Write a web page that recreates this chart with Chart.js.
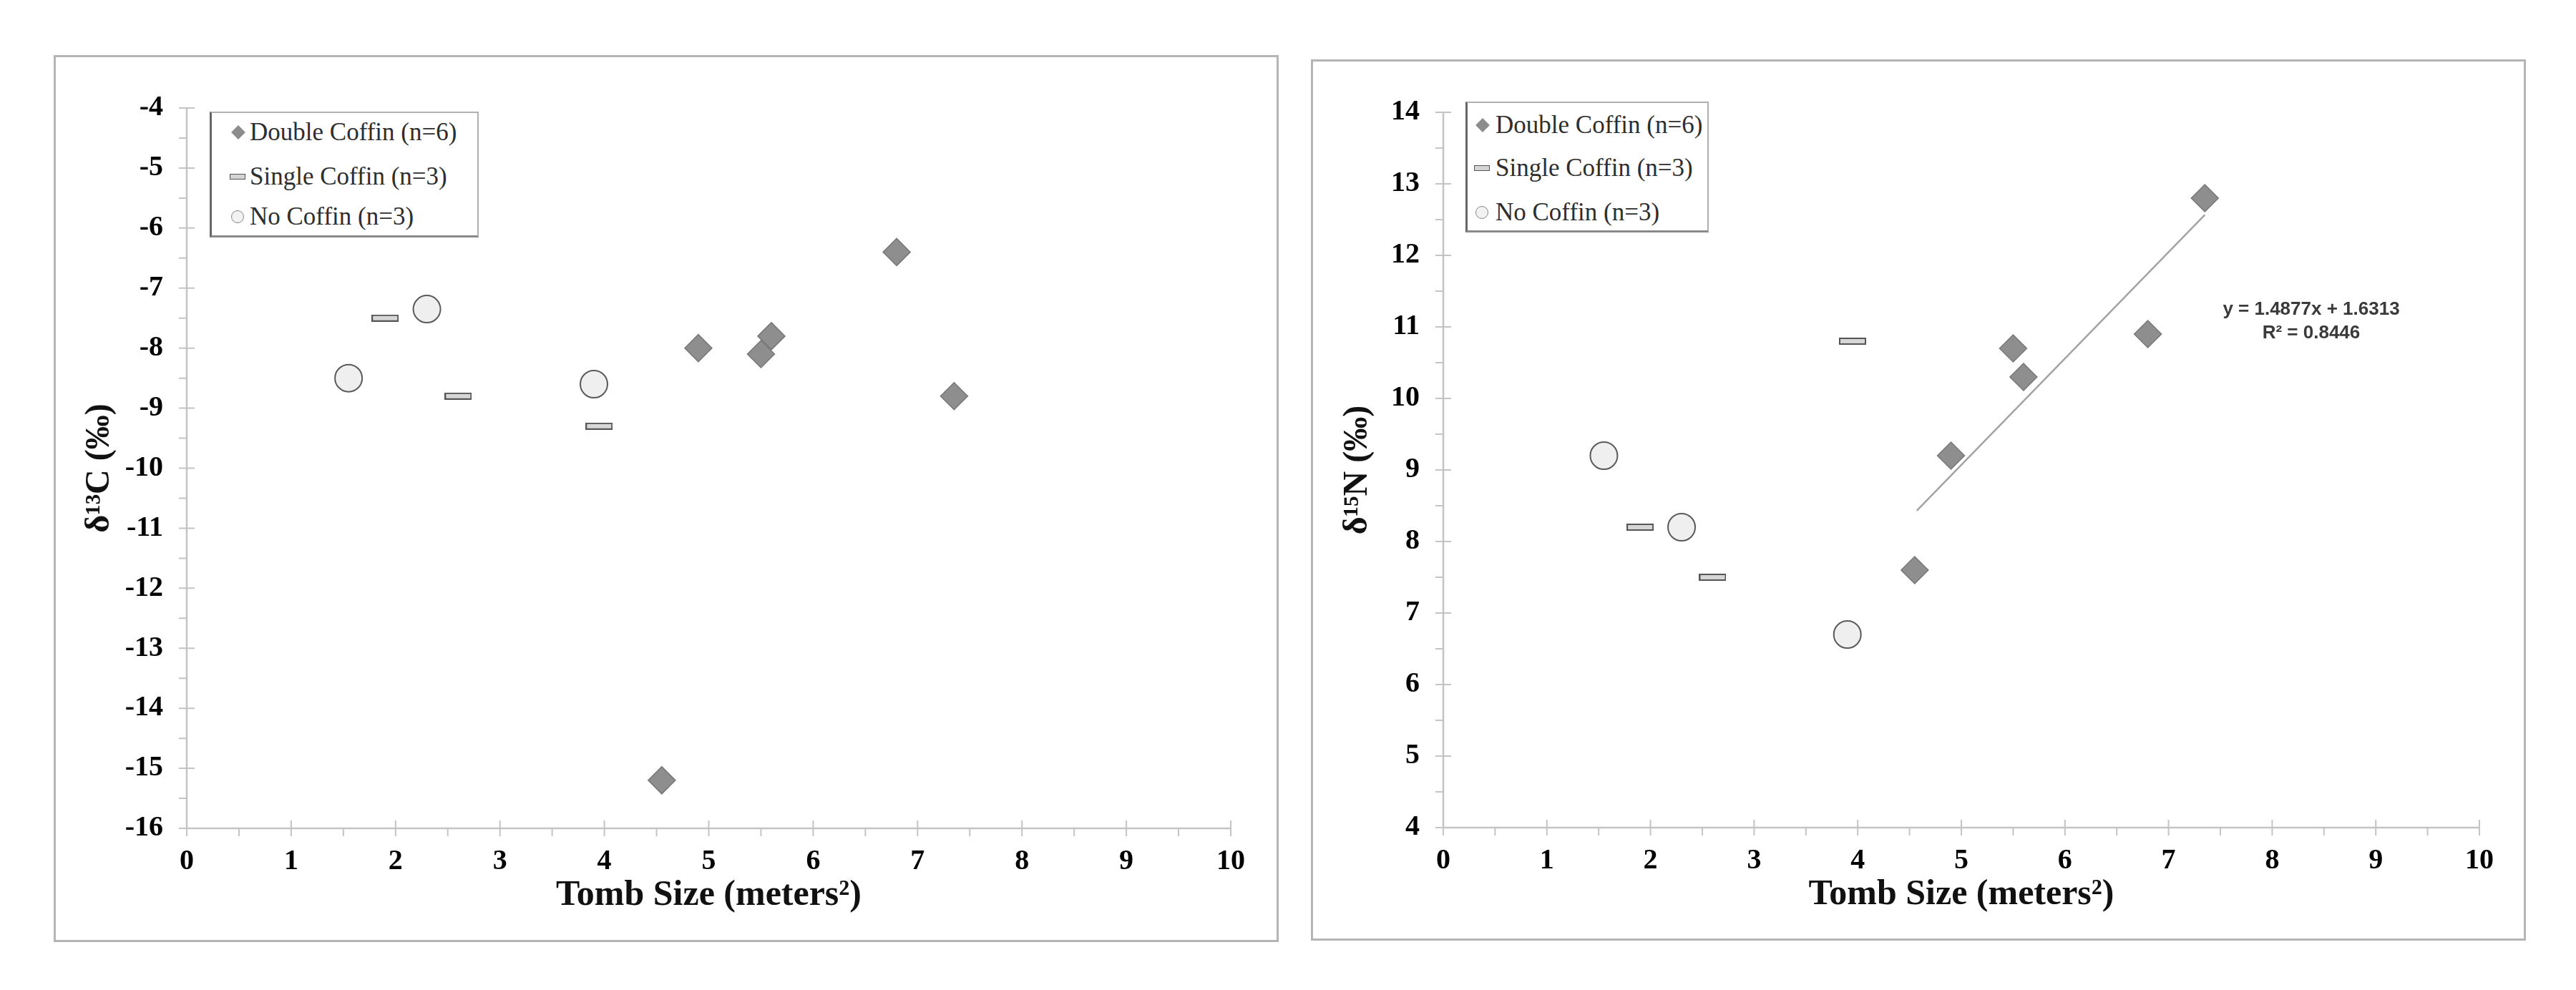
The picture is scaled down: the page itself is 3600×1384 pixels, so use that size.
<!DOCTYPE html>
<html>
<head>
<meta charset="utf-8">
<script src="https://cdn.jsdelivr.net/npm/chart.js@4.4.1/dist/chart.umd.min.js"></script>
<style>
  body { margin: 0; width: 3600px; height: 1384px; background: #fff; position: relative; overflow: hidden; font-family: "Liberation Serif", serif; }
  .panel { position: absolute; border: 3px solid #b5b5b5; box-sizing: border-box; }
  .wrap { position: absolute; }
  .legend { position: absolute; background: #fff; border: 2px solid #b0b0b0; border-left: 3px solid #666; border-bottom: 3px solid #8a8a8a; box-sizing: border-box; }
  .legend .row { position: absolute; height: 40px; display: flex; align-items: center; font-size: 35px; color: #2e2e2e; white-space: nowrap; }
  .mk { position: absolute; box-sizing: border-box; transform: translate(-50%, -50%); }
  .mk.diamond { width: 14px; height: 14px; background: #8c8c8c; transform: translate(-50%, -50%) rotate(45deg); }
  .mk.bar { width: 22px; height: 8px; background: #d4d4d4; border: 1.5px solid #555; }
  .mk.circle { width: 18px; height: 18px; border-radius: 50%; border: 1.5px solid #888; background: #f2f2f2; }
  .eq { position: absolute; width: 340px; text-align: center; font-family: "Liberation Sans", sans-serif; font-weight: bold; font-size: 26px; line-height: 33px; color: #3a3a3a; }
</style>
</head>
<body>

<div class="panel" style="left:75px;top:77px;width:1712px;height:1240px"></div>
<div class="panel" style="left:1832px;top:83px;width:1698px;height:1232px"></div>

<div class="wrap" style="left:75px;top:77px"><canvas id="carbonChart" width="1712" height="1240"></canvas></div>
<div class="wrap" style="left:1832px;top:83px"><canvas id="nitrogenChart" width="1698" height="1232"></canvas></div>

<div class="legend" id="carbonLegend" style="left:293px;top:156px;width:376px;height:176px"></div>
<div class="legend" id="nitrogenLegend" style="left:2048px;top:142px;width:340px;height:183px"></div>

<div class="eq" style="left:3060px;top:415px">y = 1.4877x + 1.6313<br>R² = 0.8446</div>

<script>
// tomb size (m²) and isotope values per burial group
const doubleX = [4.55, 4.9, 5.5, 5.6, 6.8, 7.35];
const doubleC = [-15.2, -8.0, -8.1, -7.8, -6.4, -8.8];
const doubleN = [7.6, 9.2, 10.7, 10.3, 10.9, 12.8];

const singleX = [1.9, 2.6, 3.95];
const singleC = [-7.5, -8.8, -9.3];
const singleN = [8.2, 7.5, 10.8];

const noneX = [1.55, 2.3, 3.9];
const noneC = [-8.5, -7.35, -8.6];
const noneN = [9.2, 8.2, 6.7];

const legendLabels = ['Double Coffin (n=6)', 'Single Coffin (n=3)', 'No Coffin (n=3)'];

// linear trend on δ15N (Double Coffin only)
const trendSlope = 1.4877;
const trendIntercept = 1.6313;
const trendRange = [4.57, 7.35];

const xTicks = [0, 10];           // min / max
const carbonTicks = [-16, -4];
const nitrogenTicks = [4, 14];

const SERIF = '"Liberation Serif", "Times New Roman", serif';

function points(xs, ys) {
  return xs.map((x, i) => ({ x, y: ys[i] }));
}

function barMarker(w, h) {
  const c = document.createElement('canvas');
  c.width = w; c.height = h;
  const g = c.getContext('2d');
  g.fillStyle = '#d6d6d6';
  g.fillRect(0, 0, w, h);
  g.strokeStyle = '#555';
  g.lineWidth = 2;
  g.strokeRect(1, 1, w - 2, h - 2);
  return c;
}
const barImg = barMarker(38, 10);

/* Axis lines with Excel-like tick marks: major ticks cross, minor go outward */
const excelAxes = {
  id: 'excelAxes',
  beforeDatasetsDraw(chart) {
    const { ctx, chartArea: a, scales: { x, y } } = chart;
    ctx.save();
    ctx.strokeStyle = '#c4c4c4';
    ctx.lineWidth = 2.5;
    ctx.beginPath();
    ctx.moveTo(a.left, a.top);
    ctx.lineTo(a.left, a.bottom);
    ctx.lineTo(a.right, a.bottom);
    ctx.stroke();
    ctx.lineWidth = 2;
    ctx.beginPath();
    for (let v = x.min; v <= x.max + 1e-9; v += 0.5) {
      const px = x.getPixelForValue(v);
      const major = Math.abs(v - Math.round(v)) < 1e-9;
      ctx.moveTo(px, a.bottom + 11);
      ctx.lineTo(px, major ? a.bottom - 11 : a.bottom);
    }
    for (let v = y.min; v <= y.max + 1e-9; v += 0.5) {
      const py = y.getPixelForValue(v);
      const major = Math.abs(v - Math.round(v)) < 1e-9;
      ctx.moveTo(a.left - 11, py);
      ctx.lineTo(major ? a.left + 11 : a.left, py);
    }
    ctx.stroke();
    ctx.restore();
  }
};

function buildChart(canvasId, ys, yRange, yTitle, layout, trend) {
  const datasets = [
    {
      label: legendLabels[0],
      data: points(doubleX, ys.d),
      pointStyle: 'rectRot',
      pointRadius: 19,
      backgroundColor: '#8e8e8e',
      borderColor: '#777',
      borderWidth: 1.5
    },
    {
      label: legendLabels[1],
      data: points(singleX, ys.s),
      pointStyle: barImg
    },
    {
      label: legendLabels[2],
      data: points(noneX, ys.n),
      pointStyle: 'circle',
      pointRadius: 19,
      backgroundColor: '#efefef',
      borderColor: '#5a5a5a',
      borderWidth: 2
    }
  ];
  if (trend) {
    datasets.push({
      type: 'line',
      label: 'trend',
      data: trendRange.map(x => ({ x, y: trendSlope * x + trendIntercept })),
      borderColor: '#a3a3a3',
      borderWidth: 2.5,
      pointRadius: 0,
      order: 5
    });
  }

  return new Chart(document.getElementById(canvasId), {
    type: 'scatter',
    data: { datasets },
    options: {
      responsive: false,
      animation: false,
      events: [],
      layout: { padding: { left: 0, right: layout.right, top: layout.top, bottom: 0 } },
      plugins: { legend: { display: false }, tooltip: { enabled: false } },
      scales: {
        x: {
          type: 'linear',
          min: xTicks[0], max: xTicks[1],
          afterFit: s => { s.height = layout.xHeight; },
          grid: { display: false, drawTicks: false },
          border: { display: false },
          ticks: { stepSize: 1, padding: 23, color: '#000', font: { family: SERIF, size: 40, weight: 'bold' } },
          title: {
            display: true,
            text: 'Tomb Size (meters²)',
            color: '#111',
            padding: { top: 0, bottom: layout.xTitlePad },
            font: { family: SERIF, size: 50, weight: 'bold' }
          }
        },
        y: {
          type: 'linear',
          min: yRange[0], max: yRange[1],
          afterFit: s => { s.width = layout.yWidth; },
          grid: { display: false, drawTicks: false },
          border: { display: false },
          ticks: { stepSize: 1, padding: 33, color: '#000', font: { family: SERIF, size: 40, weight: 'bold' } },
          title: {
            display: true,
            text: yTitle,
            color: '#111',
            padding: { top: layout.yTitlePad, bottom: 0 },
            font: { family: SERIF, size: 48, weight: 'bold' }
          }
        }
      }
    },
    plugins: [excelAxes]
  });
}

buildChart('carbonChart', { d: doubleC, s: singleC, n: noneC }, carbonTicks, 'δ¹³C (‰)',
  { right: 67, top: 74, xHeight: 159, yWidth: 186, xTitlePad: 35, yTitlePad: 36 }, false);

buildChart('nitrogenChart', { d: doubleN, s: singleN, n: noneN }, nitrogenTicks, 'δ¹⁵N (‰)',
  { right: 65, top: 74, xHeight: 158, yWidth: 185, xTitlePad: 34, yTitlePad: 37 }, true);

function renderLegend(id, rows, markerX, textX) {
  const el = document.getElementById(id);
  const kinds = ['diamond', 'bar', 'circle'];
  el.innerHTML = legendLabels.map((label, i) => `
    <span class="mk ${kinds[i]}" style="left:${markerX[i]}px;top:${rows[i]}px"></span>
    <div class="row" style="left:${textX}px;top:${rows[i] - 20}px">${label}</div>`).join('');
}
renderLegend('carbonLegend', [27, 89, 145], [37, 36, 36], 53);
renderLegend('nitrogenLegend', [31, 91, 153], [21, 20, 20], 39);
</script>
</body>
</html>
